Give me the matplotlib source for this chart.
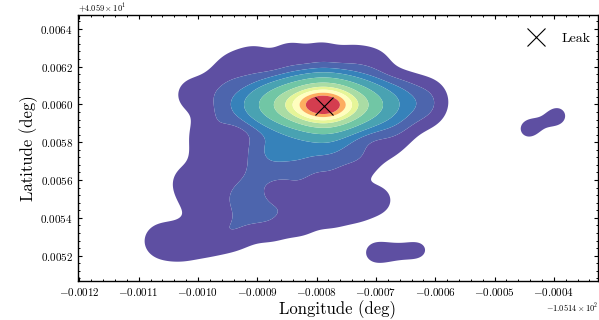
import numpy as np
import matplotlib
matplotlib.use("Agg")
import matplotlib.pyplot as plt
from matplotlib.ticker import MultipleLocator, AutoMinorLocator

plt.rcParams.update({
    "font.family": "serif",
    "font.serif": ["cmr10"],
    "mathtext.fontset": "cm",
    "axes.formatter.use_mathtext": True,
    "axes.linewidth": 1.0,
    "xtick.direction": "in",
    "ytick.direction": "in",
    "xtick.top": True,
    "ytick.right": True,
    "xtick.major.size": 3.0,
    "ytick.major.size": 3.0,
    "xtick.minor.size": 1.5,
    "ytick.minor.size": 1.5,
    "xtick.major.width": 0.8,
    "ytick.major.width": 0.8,
    "xtick.minor.width": 0.7,
    "ytick.minor.width": 0.7,
})

LON0 = -105.14
LAT0 = 40.59

# leak location
leak_lon = LON0 - 0.000788
leak_lat = LAT0 + 0.005994

# detection points, offsets from LON0 / LAT0 in micro-degrees, with weights
# main ridge through the leak
ridge_dlon = [-951, -931, -910, -890, -870, -850, -830, -809, -789,
              -769, -749, -729, -708, -688, -668, -648, -628]
ridge_dlat = [5998, 5998, 5998, 5998, 5998, 5998, 5998, 5998, 5998,
              5998, 5998, 5998, 5998, 5998, 5998, 5998, 5998]
ridge_w = [0.03, 0.07, 0.14, 0.26, 0.45, 0.68, 1.05, 1.62, 2.0,
           1.62, 1.0, 0.6, 0.38, 0.2, 0.1, 0.05, 0.02]

# plume tail going south-west
tail_dlon = [-769, -794, -828, -862, -895, -735, -727, -777, -828, -870, -904, -920, -904]
tail_dlat = [5823, 5813, 5786, 5786, 5770, 5760, 5707, 5707, 5680, 5680, 5627, 5522, 5442]
tail_w = [0.10, 0.12, 0.12, 0.11, 0.09, 0.05, 0.035, 0.05, 0.06, 0.07, 0.06, 0.06, 0.05]

# sparse background detections
bg_dlon = [-942, -904, -845, -791, -740, -702, -656, -612,   # top
           -617, -663, -685, -693,                           # right
           -735, -777, -828, -878, -929, -954,               # bottom
           -1064, -1027, -988,                               # south-west lobe
           -1017, -976, -988, -966, -1010, -966, -1005,      # left
           -963, -954, -828, -777, -862]                     # inside
bg_dlat = [6183, 6225, 6247, 6247, 6225, 6204, 6067, 6035,
           5982, 5876, 5786, 5495,
           5469, 5432, 5389, 5363, 5347, 5321,
           5278, 5268, 5294,
           5590, 5717, 5829, 5908, 6051, 6077, 5480,
           5654, 5495, 5548, 5575, 5469]
bg_w = [0.045, 0.045, 0.045, 0.045, 0.045, 0.045, 0.045, 0.045,
        0.045, 0.045, 0.035, 0.035,
        0.045, 0.045, 0.045, 0.045, 0.045, 0.045,
        0.05, 0.05, 0.05,
        0.045, 0.045, 0.04, 0.045, 0.045, 0.045, 0.03,
        0.045, 0.045, 0.045, 0.045, 0.045]

# isolated detections
iso_dlon = [-705, -665, -624, -444, -393]
iso_dlat = [5215, 5220, 5231, 5870, 5940]
iso_w = [0.03, 0.022, 0.027, 0.032, 0.032]

dlon = np.array(ridge_dlon + tail_dlon + bg_dlon + iso_dlon) * 1e-6
dlat = np.array(ridge_dlat + tail_dlat + bg_dlat + iso_dlat) * 1e-6
wts = np.array(ridge_w + tail_w + bg_w + iso_w)
lon = LON0 + dlon
lat = LAT0 + dlat

xlim = (LON0 - 0.0012025, LON0 - 0.000326)
ylim = (LAT0 + 0.0050667, LAT0 + 0.0064704)

# weighted gaussian kde on a grid
hx, hy = 23.6e-6, 74.1e-6
gx, gy = np.meshgrid(np.linspace(*xlim, 500), np.linspace(*ylim, 400))
dens = np.zeros_like(gx)
for x0, y0, w0 in zip(lon, lat, wts):
    dens += w0 * np.exp(-0.5 * (((gx - x0) / hx) ** 2 + ((gy - y0) / hy) ** 2))

fracs = np.array([0.006, 0.02, 0.04, 0.075, 0.155, 0.29, 0.44, 0.56, 0.69, 0.81, 1.0001])
levels = dens.max() * fracs
cmap = plt.get_cmap("Spectral_r")
band_pos = [0.0, 0.04, 0.09, 0.145, 0.215, 0.3, 0.4, 0.5, 0.7, 0.9]
colors = [cmap(p) for p in band_pos]

fig = plt.figure(figsize=(5.99, 3.2), dpi=100)
ax = fig.add_axes([0.130, 0.122, 0.868, 0.830])
ax.contourf(gx, gy, dens, levels=levels, colors=colors, antialiased=True)
ax.plot([leak_lon], [leak_lat], "x", color="black", ms=13, mew=0.8,
        linestyle="none", label="Leak")

ax.set_xlim(*xlim)
ax.set_ylim(*ylim)
ax.xaxis.set_major_locator(MultipleLocator(0.0001))
ax.yaxis.set_major_locator(MultipleLocator(0.0002))
ax.xaxis.set_minor_locator(AutoMinorLocator(5))
ax.yaxis.set_minor_locator(AutoMinorLocator(5))
ax.xaxis.get_major_formatter().set_useOffset(LON0)
ax.yaxis.get_major_formatter().set_useOffset(LAT0)
ax.tick_params(labelsize=8)
ax.xaxis.get_offset_text().set_fontsize(6)
ax.yaxis.get_offset_text().set_fontsize(6)

ax.set_xlabel("Longitude (deg)", fontsize=12, labelpad=1.5)
ax.set_ylabel("Latitude (deg)", fontsize=12, labelpad=2)
ax.legend(loc="upper right", bbox_to_anchor=(1.01, 0.985), frameon=False,
          fontsize=10, handletextpad=0.85)

fig.savefig("out.png", dpi=100)
